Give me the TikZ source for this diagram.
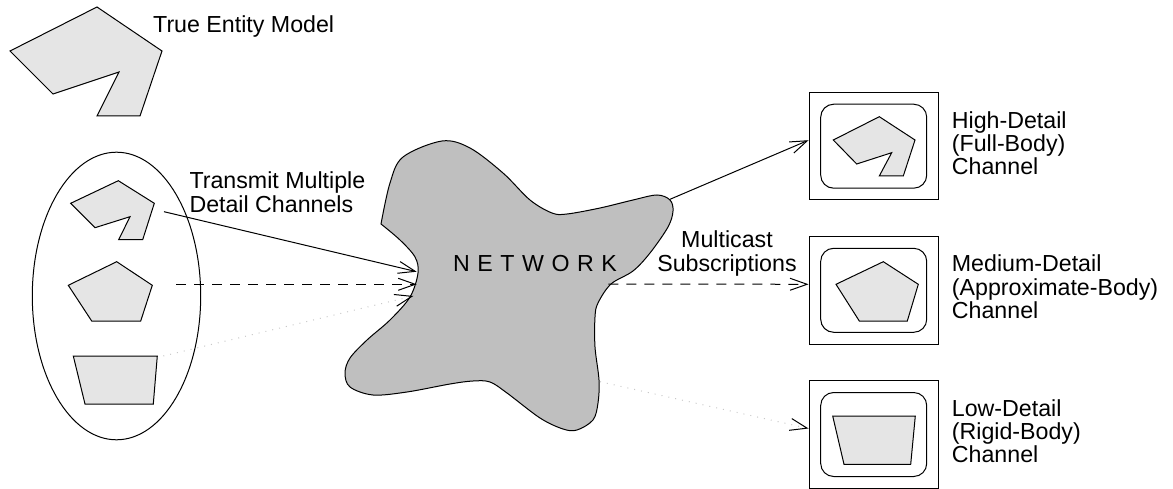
\documentclass[tikz,border=0pt]{standalone}
\usepackage{fontspec}
\setmainfont{Liberation Sans}
\usetikzlibrary{arrows.meta,calc,shapes.geometric}
\definecolor{partgray}{HTML}{E5E5E5}
\definecolor{netgray}{HTML}{BFBFBF}
\definecolor{dotgray}{HTML}{C8C8C8}
\begin{document}
\begin{tikzpicture}[x=1pt,y=-1pt,
  outline/.style={draw=black,line width=1pt,line join=miter},
  part/.style={outline,fill=partgray},
  lbl/.style={inner sep=0pt,font=\fontsize{23.2}{23.3}\selectfont},
  lbltwo/.style={inner sep=0pt,font=\fontsize{23.2}{24}\selectfont},
  barb/.style={line width=1pt,-{Straight Barb[length=17pt,width=12pt,color=black]}},
  solidlink/.style={barb},
  dashlink/.style={barb,dash pattern=on 10pt off 8pt},
  dotlink/.style={barb,draw=dotgray,dash pattern=on 1pt off 6pt},
  chanbox/.style={outline,minimum width=129.3pt,minimum height=107.5pt,inner sep=0pt},
  chaninner/.style={outline,rounded corners=13pt,minimum width=106pt,minimum height=84pt,inner sep=0pt},
]
\useasboundingbox (0,0) rectangle (1173,489);

% full entity model
\draw[part] (10,51) -- (97,7) -- (162,51) -- (140,116) -- (97,116) -- (119,72) -- (53,94) -- cycle;
\node[lbl,anchor=base west] (truelbl) at (153,32.3) {True Entity Model};

% sender side: the three levels of detail
\node[outline,ellipse,minimum width=168.4pt,minimum height=287.6pt,inner sep=0pt] (group) at (116.5,296) {};
\draw[part] (70.7,203.3) -- (118.3,180.7) -- (154.3,203.3) -- (142.7,239.7) -- (118.7,239.7) -- (130,216.7) -- (95,227.7) -- cycle;
\draw[part] (68.3,285.3) -- (116.7,261.7) -- (152.3,285.3) -- (140.7,321) -- (91.7,321) -- cycle;
\draw[part] (73.3,356) -- (157.3,356) -- (153.3,404) -- (85,404) -- cycle;
% base anchor of a multi-line node sits on its last line
\node[lbltwo,anchor=base west,align=left] (txlbl) at (189.3,212.3) {Transmit Multiple\\Detail Channels};

% the network cloud
\draw[outline,fill=netgray] plot[smooth,tension=0.55] coordinates {
  (381,224) (390,183) (403,157) (442,141) (470,148) (503,173) (530,200)
  (552,213) (567,214) (600,208) (633,200) (657,195) (670,200) (673,211)
  (668,227) (650,253) (633,271) (611,284) (598,303) (595,317) (595,347)
  (599,380) (598,403) (593,420) (577,430) (563,429) (540,418) (507,393)
  (490,382) (473,381) (450,384) (407,392) (373,395) (350,387) (345,373)
  (350,358) (367,340) (390,320) (410,297) (418,273) (415,257) (400,240)
  (381,224)} -- cycle;
\node[lbl,anchor=base west] (netlbl) at (453,271.7) {\spaceskip=7.5pt\relax N E T W O R K};

% receiver side: one box per channel
\node[chanbox] (hi) at (873.7,146.2) {};
\node[chaninner] (hiin) at (hi.center) {};
\draw[part] (833.3,140) -- (879.3,116.7) -- (915,140) -- (903.3,176) -- (879.3,176) -- (891.7,152.7) -- (856.7,164) -- cycle;
\node[lbl,anchor=base west,align=left] (hilbl) at (951.7,174.9) {High-Detail\\(Full-Body)\\Channel};

\node[chanbox] (med) at (873.7,290.3) {};
\node[chaninner] (medin) at (med.center) {};
\draw[part] (836,284.3) -- (883.3,261.7) -- (918.3,284.3) -- (907.3,321) -- (859.3,321) -- cycle;
\node[lbl,anchor=base west,align=left] (medlbl) at (951.7,318.3) {Medium-Detail\\(Approximate-Body)\\Channel};

\node[chanbox] (lo) at (873.7,434.5) {};
\node[chaninner] (loin) at (lo.center) {};
\draw[part] (832.7,416) -- (915.3,416) -- (910.7,464.3) -- (844,464.3) -- cycle;
\node[lbl,anchor=base west,align=left] (lolbl) at (951.7,462.6) {Low-Detail\\(Rigid-Body)\\Channel};

\node[lbltwo,anchor=base,align=center] (mclbl) at (727,271.7) {Multicast\\Subscriptions};

% connector ends on the sender shapes and on the cloud
\coordinate (srcHi) at (164,211.7);
\coordinate (srcMed) at (176,284.3);
\coordinate (srcLo) at (163.3,356);
\coordinate (netHiIn) at (416.7,271.7);
\coordinate (netMedIn) at (416.7,284.3);
\coordinate (netLoIn) at (413.3,296);
\coordinate (netHiOut) at (670,199.3);
\coordinate (netMedOut) at (608.3,284);
\coordinate (netLoOut) at (600,381.7);

\draw[solidlink] (srcHi) -- (netHiIn);
\draw[dashlink] (srcMed) -- (netMedIn);
\draw[dotlink] (srcLo) -- (netLoIn);

\draw[solidlink] (netHiOut) -- ($(hi.west)+(0,-6)$);
\draw[dashlink] (netMedOut) -- ($(med.west)+(0,-6)$);
\draw[dotlink] (netLoOut) -- ($(lo.west)+(0,-6)$);
\end{tikzpicture}
\end{document}
